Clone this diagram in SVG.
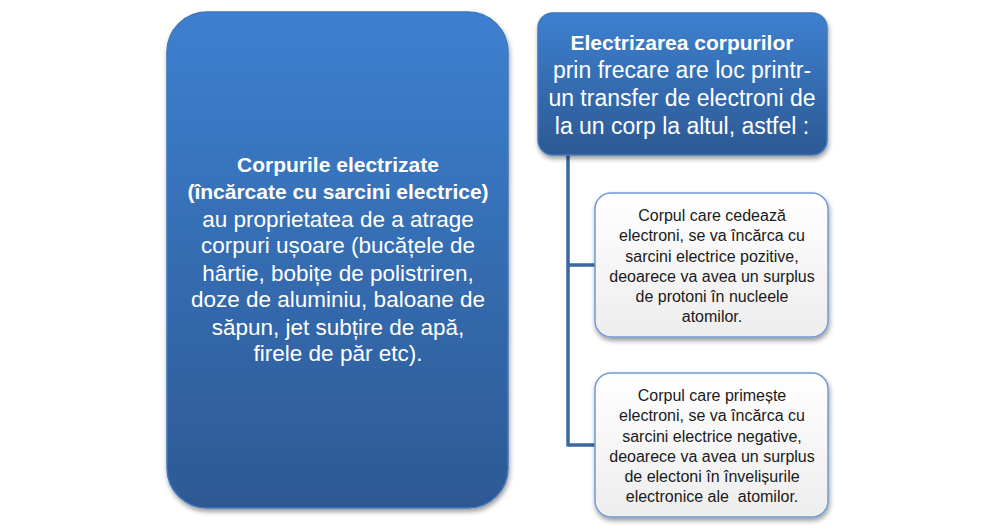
<svg xmlns="http://www.w3.org/2000/svg" width="1000" height="530" viewBox="0 0 1000 530">
<style>
.wt{fill:#ffffff;font-family:"Liberation Sans",Arial,sans-serif;text-anchor:middle}
.b{font-weight:bold}
.dk{fill:#1a1a1a;font-family:"Liberation Sans",Arial,sans-serif;text-anchor:middle;font-size:16px}
.blue{fill:url(#gBlue);stroke:#3f77bd;stroke-width:1.5;filter:url(#sh)}
.light{fill:url(#gLight);stroke:#6f9bd3;stroke-width:1.5;filter:url(#sh)}
.conn{fill:none;stroke:#3d67a0;stroke-width:3.5}
</style>
<defs>
<linearGradient id="gBlue" x1="0" y1="0" x2="0" y2="1">
<stop offset="0" stop-color="#3d80d0"/>
<stop offset="1" stop-color="#2d5993"/>
</linearGradient>
<linearGradient id="gLight" x1="0" y1="0" x2="0" y2="1">
<stop offset="0" stop-color="#ffffff"/>
<stop offset="1" stop-color="#ededed"/>
</linearGradient>
<filter id="sh" x="-10%" y="-10%" width="125%" height="125%">
<feGaussianBlur in="SourceAlpha" stdDeviation="2.5"/>
<feOffset dx="1" dy="3" result="o"/>
<feComponentTransfer><feFuncA type="linear" slope="0.4"/></feComponentTransfer>
<feMerge><feMergeNode/><feMergeNode in="SourceGraphic"/></feMerge>
</filter>
</defs>
<rect width="1000" height="530" fill="#ffffff"/>
<g id="connectors">
<path class="conn" d="M568 155 V445 M566.5 265 H596 M566.5 445 H596"/>
</g>
<g id="left-node">
<rect class="blue" x="167" y="12" width="341" height="496" rx="40"/>
<text class="wt b" font-size="21" x="338" y="172">Corpurile electrizate</text>
<text class="wt b" font-size="21" x="338" y="199">(încărcate cu sarcini electrice)</text>
<text class="wt" font-size="22.5" x="338" y="227">au proprietatea de a atrage</text>
<text class="wt" font-size="22.5" x="338" y="253">corpuri ușoare (bucățele de</text>
<text class="wt" font-size="22.5" x="338" y="281">hârtie, bobițe de polistriren,</text>
<text class="wt" font-size="22.5" x="338" y="307">doze de aluminiu, baloane de</text>
<text class="wt" font-size="22.5" x="338" y="335">săpun, jet subțire de apă,</text>
<text class="wt" font-size="22.5" x="338" y="361">firele de păr etc).</text>
</g>
<g id="top-node">
<rect class="blue" x="538" y="13" width="289" height="142" rx="15"/>
<text class="wt b" font-size="21" x="682" y="50">Electrizarea corpurilor</text>
<text class="wt" font-size="23" x="682" y="78">prin frecare are loc printr-</text>
<text class="wt" font-size="23" x="682" y="106">un transfer de electroni de</text>
<text class="wt" font-size="23" x="682" y="134">la un corp la altul, astfel :</text>
</g>
<g id="node-positive">
<rect class="light" x="595" y="193" width="233" height="144" rx="16"/>
<text class="dk" x="712" y="221">Corpul care cedează</text>
<text class="dk" x="712" y="241">electroni, se va încărca cu</text>
<text class="dk" x="712" y="262">sarcini electrice pozitive,</text>
<text class="dk" x="712" y="282">deoarece va avea un surplus</text>
<text class="dk" x="712" y="302">de protoni în nucleele</text>
<text class="dk" x="712" y="322">atomilor.</text>
</g>
<g id="node-negative">
<rect class="light" x="595" y="373" width="233" height="144" rx="16"/>
<text class="dk" x="712" y="401">Corpul care primește</text>
<text class="dk" x="712" y="421">electroni, se va încărca cu</text>
<text class="dk" x="712" y="442">sarcini electrice negative,</text>
<text class="dk" x="712" y="462">deoarece va avea un surplus</text>
<text class="dk" x="712" y="482">de electoni în învelișurile</text>
<text class="dk" x="712" y="502">electronice ale&#160; atomilor.</text>
</g>
</svg>
